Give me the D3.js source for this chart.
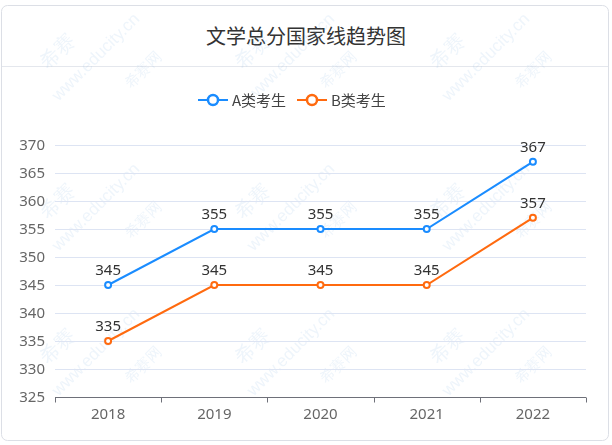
<!DOCTYPE html>
<html><head><meta charset="utf-8">
<script src="https://cdn.jsdelivr.net/npm/d3@7/dist/d3.min.js"></script>
<style>
html,body{margin:0;padding:0;background:#fff;}
svg{display:block;font-family:"Noto Sans CJK SC","Microsoft YaHei",sans-serif;}
</style></head>
<body>
<svg id="c" width="612" height="445"></svg>
<script>
const title = "文学总分国家线趋势图";
const categories = ["2018","2019","2020","2021","2022"];
const seriesNames = ["A类考生","B类考生"];
const seriesA = [345,355,355,355,367];
const seriesB = [335,345,345,345,357];
const yTicks = [325,330,335,340,345,350,355,360,365,370];
const colors = ["#1a8cff","#ff6a0f"];
const numFont = "'Noto Sans', 'Open Sans', sans-serif";

const svg = d3.select("#c");
// card
svg.append("rect").attr("x",1.5).attr("y",5.5).attr("width",607).attr("height",435)
  .attr("rx",6).attr("fill","#fff").attr("stroke","#dcdfe6");
svg.append("line").attr("x1",2).attr("x2",608).attr("y1",66.5).attr("y2",66.5).attr("stroke","#e4e7ed");
svg.append("text").attr("x",306).attr("y",44).attr("text-anchor","middle")
  .attr("font-size",20).attr("fill","#333").text(title);

// watermarks
const wm = svg.append("g").attr("fill","#7fb0e0").attr("opacity",0.13).attr("font-family","Arial, sans-serif");
[[0,0],[195,0],[390,0],[0,150],[195,150],[390,150],[0,295],[195,295],[390,295]].forEach(([dx,dy])=>{
  const g = wm.append("g").attr("transform",`translate(${dx+60},${dy+75}) rotate(-45)`);
  g.append("text").attr("x",-5).attr("y",-12).attr("font-size",20).text("希赛");
  g.append("text").attr("x",-20).attr("y",18).attr("font-size",17).text("www.educity.cn");
  g.append("text").attr("x",40).attr("y",60).attr("font-size",15).text("希赛网");
});

const x = d3.scaleBand().domain(categories).range([55,586]);
const y = d3.scaleLinear().domain([325,370]).range([397,145]);

// grid
svg.append("g").selectAll("line").data(yTicks.filter(t=>t!==325)).join("line")
  .attr("x1",55).attr("x2",586).attr("y1",d=>Math.round(y(d))+0.5).attr("y2",d=>Math.round(y(d))+0.5)
  .attr("stroke","#dde4f3");

// y labels
svg.append("g").selectAll("text").data(yTicks).join("text")
  .attr("x",45).attr("y",d=>y(d)+5).attr("text-anchor","end")
  .attr("font-size",15).attr("fill","#666").attr("font-family",numFont).text(d=>d);

// x axis
const xa = svg.append("g").attr("transform","translate(0,397.5)")
  .call(d3.axisBottom(x).tickSize(0).tickPadding(11));
xa.select(".domain").attr("stroke","#6e7079").attr("d","M55,0H586");
xa.selectAll("text").attr("font-size",15).attr("fill","#666").attr("font-family",numFont);
const bounds = categories.map(c=>x(c)).concat([x.range()[1]]);
xa.append("g").selectAll("line").data(bounds).join("line")
  .attr("x1",d=>Math.round(d)+0.5).attr("x2",d=>Math.round(d)+0.5).attr("y1",0).attr("y2",5).attr("stroke","#6e7079");

// series
const cx = c => x(c)+x.bandwidth()/2;
[seriesA,seriesB].forEach((s,i)=>{
  const data = categories.map((c,j)=>({c,v:s[j]}));
  svg.append("path").datum(data).attr("fill","none").attr("stroke",colors[i]).attr("stroke-width",2)
    .attr("d",d3.line().x(d=>cx(d.c)).y(d=>y(d.v)));
  svg.append("g").selectAll("circle").data(data).join("circle")
    .attr("cx",d=>cx(d.c)).attr("cy",d=>y(d.v)).attr("r",3).attr("fill","#fff")
    .attr("stroke",colors[i]).attr("stroke-width",2);
  svg.append("g").selectAll("text").data(data).join("text")
    .attr("x",d=>cx(d.c)).attr("y",d=>y(d.v)-10).attr("text-anchor","middle")
    .attr("font-size",15).attr("fill","#333").attr("font-family",numFont).text(d=>d.v);
});

// legend
const leg = [{x:198,name:seriesNames[0],c:colors[0]},{x:297,name:seriesNames[1],c:colors[1]}];
leg.forEach(l=>{
  const g = svg.append("g").attr("transform",`translate(${l.x},100)`);
  g.append("line").attr("x1",0).attr("x2",30).attr("y1",0).attr("y2",0).attr("stroke",l.c).attr("stroke-width",2);
  g.append("circle").attr("cx",15).attr("cy",0).attr("r",5).attr("fill","#fff").attr("stroke",l.c).attr("stroke-width",2.5);
  g.append("text").attr("x",34).attr("y",5.5).attr("font-size",15).attr("fill","#444").text(l.name);
});
</script>
</body></html>
